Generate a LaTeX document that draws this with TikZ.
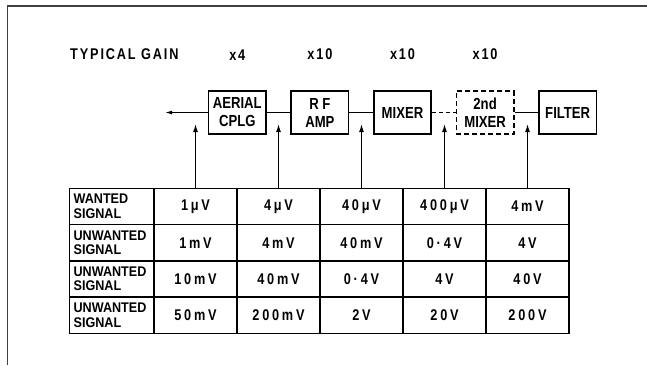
\documentclass[tikz,border=0pt]{standalone}
\usepackage{fontspec}
\setmainfont{Liberation Sans}[FakeStretch=0.82]
\newfontfamily\lettering{Liberation Sans}[FakeStretch=0.82,LetterSpace=18]
\newfontfamily\heading{Liberation Sans}[FakeStretch=0.82,LetterSpace=12]
\newfontfamily\rowfont{Liberation Sans}[FakeStretch=0.9]
\usetikzlibrary{positioning}
\usetikzlibrary{arrows.meta}

\begin{document}
\begin{tikzpicture}
	[
		x = 1pt, y = -1pt,
		stage/.style = {rectangle, minimum width = 57.5pt, minimum height = 43pt, inner sep = 0pt, line width = 1.6pt, draw = black, align = center, font = \fontsize{16}{18}\selectfont\bfseries},
		optional/.style = {stage, dash pattern = on 5pt off 3pt},
		gain/.style = {inner sep = 0pt, font = \fontsize{15.5}{15.5}\heading\bfseries},
		cell/.style = {rectangle, minimum width = 83pt, minimum height = 36.25pt, inner sep = 0pt, line width = 1.6pt, draw = black, font = \fontsize{15.5}{15.5}\lettering\bfseries},
		rowhead/.style = {rectangle, text width = 76pt, minimum height = 36.25pt, inner xsep = 4.3pt, inner ysep = 0pt, line width = 1.6pt, draw = black, align = left, font = \fontsize{14}{14.5}\rowfont\bfseries},
		link/.style = {line width = 1.2pt},
		feed/.style = {line width = 1.2pt, -{Latex[length = 8pt, width = 5pt]}},
	]
	\useasboundingbox (0,0) rectangle (647,365);
	\draw [line width = 1.5pt, black!75] (647,6) -- (7.5,6) -- (7.5,365);

	% receiver chain
	\node (aerial) [stage] at (237.3,112.5) {AERIAL\\CPLG};
	\node (rfamp) [stage, right = 23.5pt of aerial] {R F\\AMP};
	\node (mixer) [stage, right = 23.5pt of rfamp] {MIXER};
	\node (mixer2) [optional, right = 23.5pt of mixer] {2nd\\MIXER};
	\node (filter) [stage, right = 23.5pt of mixer2] {FILTER};

	% gains
	\node (typical) [gain, anchor = west] at (70,54.3) {TYPICAL GAIN};
	\node (gain1) [gain, above = 30pt of aerial] {x4};
	\node (gain2) [gain, above = 30pt of rfamp] {x10};
	\node (gain3) [gain, above = 30pt of mixer] {x10};
	\node (gain4) [gain, above = 30pt of mixer2] {x10};

	\coordinate (aerialout) at (165,112.5);
	\draw [link, -{Latex[length = 7pt, width = 4pt]}] (aerial) -- (aerialout);
	\draw [link] (aerial) -- (rfamp);
	\draw [link] (rfamp) -- (mixer);
	\draw [link, dash pattern = on 4pt off 3pt] (mixer) -- (mixer2);
	\draw [link] (mixer2) -- (filter);

	% signal levels
	\foreach \row/\kind/\vals in {1/WANTED/{1μV,4μV,40μV,400μV,4mV}, 2/UNWANTED/{1mV,4mV,40mV,0·4V,4V}, 3/UNWANTED/{10mV,40mV,0·4V,4V,40V}, 4/UNWANTED/{50mV,200mV,2V,20V,200V}}
	{
		\node (head\row) [rowhead] at (111.65, {188.3 + 36.25*(\row - 0.5)}) {\kind\\SIGNAL};
		\foreach \val [count = \col] in \vals
			\node (cell\row\col) [cell] at ({154 + 83*(\col - 0.5)}, {188.3 + 36.25*(\row - 0.5)}) {\val};
	}

	\coordinate (level) at (0,124);
	\foreach \col in {1,...,5}
		\draw [feed] (cell1\col.north) -- (cell1\col.north |- level);
\end{tikzpicture}
\end{document}
